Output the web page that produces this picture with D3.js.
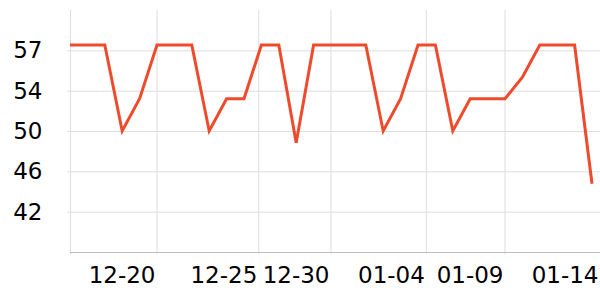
<!DOCTYPE html>
<html>
<head>
<meta charset="utf-8">
<script src="https://cdn.jsdelivr.net/npm/d3@7"></script>
<style>
  html, body { margin: 0; padding: 0; background: #fff; }
  svg { display: block; font-family: "DejaVu Sans", sans-serif; }
</style>
</head>
<body>
<svg id="chart" width="600" height="300"></svg>
<script>
// ---- data ----
const dates = ["12-15","12-16","12-17","12-18","12-19","12-20","12-21","12-22","12-23","12-24",
               "12-25","12-26","12-27","12-28","12-29","12-30","12-31","01-01","01-02","01-03",
               "01-04","01-05","01-06","01-07","01-08","01-09","01-10","01-11","01-12","01-13","01-14"];
const values = [58, 58, 58, 50, 53, 58, 58, 58, 50, 53,
                53, 58, 58, 48.9, 58, 58, 58, 58, 50, 53,
                58, 58, 50, 53, 53, 53, 55, 58, 58, 58, 45.1];
// x tick positions, in point-index units, and their labels
const xTickIndex  = [5, 10.85, 15, 20.48, 25, 30.46];
const xTickLabels = ["12-20","12-25","12-30","01-04","01-09","01-14"];
// y ticks and their labels
const yTickValues = [57.5, 53.75, 50, 46.25, 42.5];
const yTickLabels = ["57","54","50","46","42"];

(function () {
// ---- layout ----
const svg = d3.select("#chart");
const mLeft = 70, mRight = 600, mTop = 10, mBottom = 252;
const xStep = 17.4;
const fontSize = 23;

const x = d3.scaleLinear().domain([0, (mRight - mLeft) / xStep]).range([mLeft, mRight]);
const y = d3.scaleLinear().domain([38.75, 61.25]).range([mBottom, mTop]);

const gridColor = "#dddddd";

// horizontal gridlines + y labels
const yAxis = d3.axisLeft(y)
  .tickValues(yTickValues)
  .tickSize(-(mRight - mLeft) - 2.5)
  .tickFormat((d, i) => yTickLabels[i]);
const gy = svg.append("g").attr("transform", `translate(${mLeft - 2.5},0)`).call(yAxis);
gy.select(".domain").remove();
gy.selectAll(".tick line").attr("stroke", gridColor).attr("stroke-width", 1);
gy.selectAll(".tick text")
  .attr("x", -25)
  .attr("font-size", fontSize)
  .attr("fill", "#000")
  .attr("font-family", "DejaVu Sans, sans-serif");

// vertical gridlines
svg.append("g").selectAll("line").data(xTickIndex.filter(t => x(t) < mRight)).join("line")
  .attr("x1", d => x(d)).attr("x2", d => x(d))
  .attr("y1", mTop).attr("y2", mBottom + 2)
  .attr("stroke", gridColor).attr("stroke-width", 1);

// left vertical line
svg.append("line")
  .attr("x1", mLeft + 0.5).attr("x2", mLeft + 0.5)
  .attr("y1", mTop).attr("y2", mBottom + 2.5)
  .attr("stroke", gridColor).attr("stroke-width", 1);

// bottom axis line
svg.append("line")
  .attr("x1", mLeft).attr("x2", mRight)
  .attr("y1", mBottom + 0.5).attr("y2", mBottom + 0.5)
  .attr("stroke", "#bdbdbd").attr("stroke-width", 1);

// x labels (right aligned at their tick)
svg.append("g").selectAll("text").data(xTickIndex).join("text")
  .attr("x", d => x(d) - 1.5)
  .attr("y", 283)
  .attr("text-anchor", "end")
  .attr("font-size", fontSize)
  .attr("fill", "#000")
  .text((d, i) => xTickLabels[i]);

// line
const line = d3.line()
  .x((d, i) => x(i))
  .y(d => y(d));
svg.append("path")
  .datum(values)
  .attr("d", line)
  .attr("fill", "none")
  .attr("stroke", "#ee4a2c")
  .attr("stroke-width", 3)
  .attr("stroke-linejoin", "miter");
})();
</script>
</body>
</html>
